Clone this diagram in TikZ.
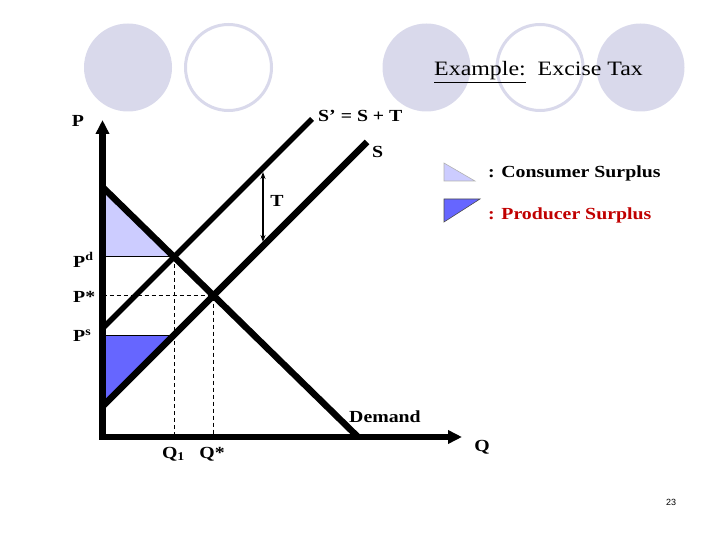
\documentclass[tikz,border=0pt]{standalone}
\usepackage{fontspec}
\setmainfont[FakeStretch=1.17]{Liberation Serif}
\setsansfont{Liberation Sans}
\usetikzlibrary{arrows.meta}
\definecolor{ring}{HTML}{D9D9EB}
\definecolor{csfill}{HTML}{CCCCFF}
\definecolor{psfill}{HTML}{6666FF}
\definecolor{psred}{HTML}{C00000}
\tikzset{
  axis/.style={draw=black, line width=6.5bp, line join=miter,
    {Triangle[width=13bp,length=14bp]}-{Triangle[width=13bp,length=14bp]}},
  curve/.style={draw=black, line width=6.5bp},
  curvet/.style={draw=black, line width=5.5bp},
  guide/.style={draw=black, dashed, dash pattern=on 4bp off 3bp, line width=0.8bp},
  level/.style={draw=black, line width=1bp},
  taxarr/.style={draw=black, line width=1.5bp, {Stealth[length=7bp,width=5bp]}-{Stealth[length=7bp,width=5bp]}},
  lab/.style={font=\fontsize{17}{20}\selectfont\bfseries, inner sep=0pt},
  title/.style={font=\fontsize{20.5}{24}\selectfont, inner sep=0pt},
}

\begin{document}
\begin{tikzpicture}[x=1bp, y=-1bp]
  \useasboundingbox (0,0) rectangle (720,540);

  % header circles
  \fill[ring] (128,67.5) circle[radius=44bp];
  \draw[ring, line width=3bp] (228.5,67.5) circle[radius=43bp];
  \fill[ring] (426.5,67.5) circle[radius=44bp];
  \draw[ring, line width=3bp] (540,67.5) circle[radius=43bp];
  \fill[ring] (640.5,67.5) circle[radius=44bp];
  \node[title, anchor=base west] (head) at (434,76) {\underline{Example:}\ \ Excise Tax};

  \coordinate (origin) at (102.5,437);
  \coordinate (ytip) at (102.5,120);
  \coordinate (xtip) at (462,437);
  \coordinate (dtop) at (102.5,187);
  \coordinate (dbot) at (358,437);
  \coordinate (s1low) at (102.5,328.5);
  \coordinate (s1top) at (312,119);
  \coordinate (slow) at (102.5,406.5);
  \coordinate (stop) at (367,142);
  \coordinate (e1) at (174,257);
  \coordinate (e0) at (213.5,295.5);
  \coordinate (es) at (174,335);
  \coordinate (pd) at (102.5,257);
  \coordinate (pstar) at (102.5,295.5);
  \coordinate (ps) at (102.5,335);
  \coordinate (q1) at (174,437);
  \coordinate (qstar) at (213.5,437);
  \coordinate (ta) at (263,172);
  \coordinate (tb) at (263,242);

  % surplus areas
  \fill[csfill] (dtop) -- (pd) -- (e1) -- cycle;
  \fill[psfill] (ps) -- (es) -- (slow) -- cycle;
  \draw[level] (pd) -- (e1);
  \draw[level] (ps) -- (es);
  \draw[guide] (pstar) -- (e0) -- (qstar);
  \draw[guide] (e1) -- (q1);

  \draw[curve] (dtop) -- (dbot);
  \draw[curvet] (s1low) -- (s1top);
  \draw[curve] (slow) -- (stop);
  \draw[axis] (ytip) -- (origin) -- (xtip);
  \draw[taxarr] (ta) -- (tb);

  \node[lab] (plab) at (78,121) {P};
  \node[lab, anchor=west] (pdlab) at (73,260) {P\textsuperscript{d}};
  \node[lab, anchor=west] (pslab) at (73,297) {P*};
  \node[lab, anchor=west] (pslab2) at (73,336) {P\textsuperscript{s}};
  \node[lab] (q1lab) at (173.5,454) {Q\textsubscript{1}};
  \node[lab] (qslab) at (212,454) {Q*};
  \node[lab] (qlab) at (482,447) {Q};
  \node[lab, anchor=west] (dlab) at (349,417) {Demand};
  \node[lab, anchor=west] (s1lab) at (318,116) {S’ = S + T};
  \node[lab, anchor=west] (slab) at (372,152) {S};
  \node[lab] (tlab) at (277,201) {T};

  % legend
  \filldraw[fill=csfill, draw=gray!60, line width=0.6bp] (444,163) -- (444,181) -- (475,181) -- cycle;
  \node[lab, anchor=west] (cslab) at (488,173) {: Consumer Surplus};
  \filldraw[fill=psfill, draw=black!70, line width=0.6bp] (444,199) -- (480,199) -- (444,222) -- cycle;
  \node[lab, anchor=west, text=psred] (pslegend) at (488,215) {: Producer Surplus};

  \node[font=\sffamily\fontsize{9}{10}\selectfont, inner sep=0pt] (pagenum) at (671,502) {23};
\end{tikzpicture}
\end{document}
